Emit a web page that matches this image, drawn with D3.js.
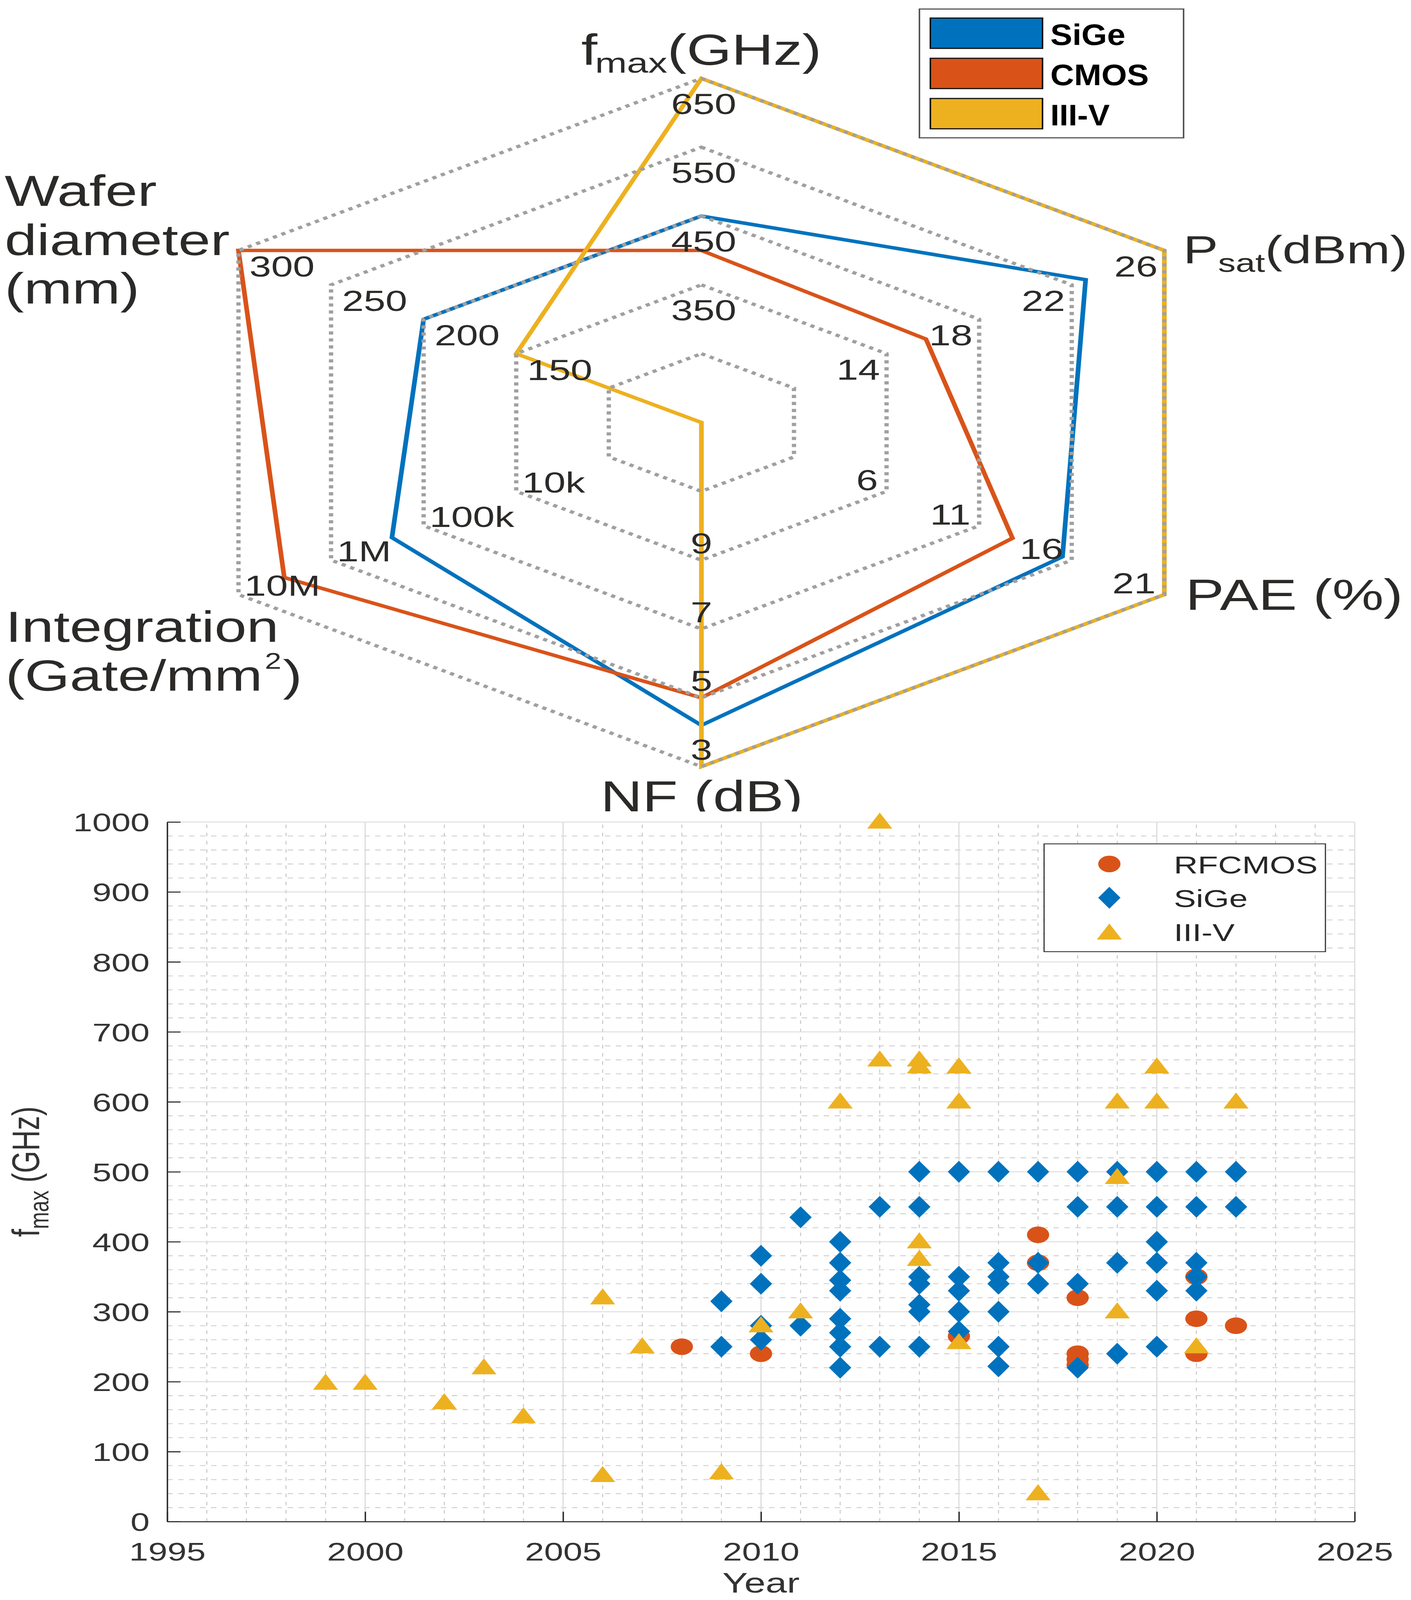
<!DOCTYPE html>
<html><head><meta charset="utf-8">
<script src="https://cdn.jsdelivr.net/npm/d3@7/dist/d3.min.js"></script>
<style>html,body{margin:0;padding:0;background:#fff;overflow:hidden;} svg{display:block;width:100vw;height:100vh;}</style>
</head><body>
<svg id="chart" viewBox="0 0 3611 5491" preserveAspectRatio="none" xmlns="http://www.w3.org/2000/svg"></svg>
<script>
// ---------------- DATA ----------------
const radarAxisKeys = ["fmax", "Psat", "PAE", "NF", "Integration", "Wafer"];
const radarSeriesNames = ["SiGe", "CMOS", "III-V"];
const sigeRadar = [450, 22.6, 15.5, 4.2, 2.2e5, 200];
const cmosRadar = [400, 15.7, 12.8, 5, 3.2e6, 300];
const iiivRadar = [650, 26, 21, 3, 1e2, 150];
const fmaxRange = [150, 650];
const psatRange = [6, 26];
const paeRange = [-4, 21];
const nfRange = [13, 3];
const integRange = [1e2, 1e7];
const waferRange = [50, 300];
const fmaxTicks = [350, 450, 550, 650];
const psatTicks = [14, 18, 22, 26];
const paeTicks = [6, 11, 16, 21];
const nfTicks = [9, 7, 5, 3];
const integTicks = [1e4, 1e5, 1e6, 1e7];
const integTickLabels = ["10k", "100k", "1M", "10M"];
const waferTicks = [150, 200, 250, 300];
const fmaxRings = [250, 350, 450, 550, 650];

const rfcmosYear = [2008, 2010, 2015, 2017, 2017, 2018, 2018, 2018, 2018, 2021, 2021, 2021, 2022];
const rfcmosFmax = [250, 240, 265, 410, 370, 320, 240, 232, 224, 350, 290, 240, 280];
const sigeYear = [2009, 2009,
  2010, 2010, 2010, 2010,
  2011, 2011,
  2012, 2012, 2012, 2012, 2012, 2012, 2012, 2012,
  2013, 2013,
  2014, 2014, 2014, 2014, 2014, 2014, 2014,
  2015, 2015, 2015, 2015, 2015,
  2016, 2016, 2016, 2016, 2016, 2016, 2016,
  2017, 2017, 2017,
  2018, 2018, 2018, 2018,
  2019, 2019, 2019, 2019,
  2020, 2020, 2020, 2020, 2020, 2020,
  2021, 2021, 2021, 2021, 2021,
  2022, 2022];
const sigeFmax = [315, 250,
  380, 340, 280, 260,
  435, 280,
  400, 370, 345, 330, 290, 270, 250, 220,
  450, 250,
  500, 450, 350, 340, 310, 300, 250,
  500, 350, 330, 300, 272,
  500, 370, 350, 340, 300, 250, 222,
  500, 370, 340,
  500, 450, 340, 220,
  500, 450, 370, 240,
  500, 450, 400, 370, 330, 250,
  500, 450, 370, 350, 330,
  500, 450];
const iiivYear = [1999, 2000, 2002, 2003, 2004, 2006, 2006, 2007, 2009, 2010, 2011, 2012,
  2013, 2013, 2014, 2014, 2014, 2014, 2015, 2015, 2015, 2017, 2019, 2019, 2019, 2020, 2020, 2021, 2022];
const iiivFmax = [200, 200, 172, 222, 152, 322, 68, 252, 72, 282, 302, 602,
  1002, 662, 662, 652, 402, 377, 652, 602, 258, 42, 602, 494, 302, 652, 602, 252, 602];
const scatterNames = ["RFCMOS", "SiGe", "III-V"];
const xTickValues = [1995, 2000, 2005, 2010, 2015, 2020, 2025];
const yTickValues = [0, 100, 200, 300, 400, 500, 600, 700, 800, 900, 1000];

// ---------------- STYLE ----------------
const C_SIGE = "#0072BD", C_CMOS = "#D95319", C_IIIV = "#EDB120";
const TXT = "#2b2a28";
const FONT = "'Liberation Sans', Arial, Helvetica, sans-serif";

const svg = d3.select("#chart");
svg.append("rect").attr("width", 3611).attr("height", 5491).attr("fill", "#fff");

// ---------------- RADAR ----------------
const cx = 1795, cy = 1450, Rx = 1368, Ry = 1181;
const angles = [90, 30, -30, -90, -150, 150].map(d => d * Math.PI / 180);
const radarScales = [
  d3.scaleLinear().domain(fmaxRange).range([0, 1]),
  d3.scaleLinear().domain(psatRange).range([0, 1]),
  d3.scaleLinear().domain(paeRange).range([0, 1]),
  d3.scaleLinear().domain(nfRange).range([0, 1]),
  d3.scaleLog().domain(integRange).range([0, 1]),
  d3.scaleLinear().domain(waferRange).range([0, 1])
];
const rxS = d3.scaleLinear().domain([0, 1]).range([0, Rx]);
const ryS = d3.scaleLinear().domain([0, 1]).range([0, Ry]);
function pt(i, f) {
  return [cx + rxS(f) * Math.cos(angles[i]), cy - ryS(f) * Math.sin(angles[i])];
}

svg.append("defs").append("clipPath").attr("id", "radarClip")
  .append("rect").attr("x", 0).attr("y", 0).attr("width", 3611).attr("height", 2785);
const radar = svg.append("g").attr("clip-path", "url(#radarClip)");
const closedLine = d3.line().curve(d3.curveLinearClosed);

const radarSeries = [
  {name: radarSeriesNames[0], vals: sigeRadar, color: C_SIGE},
  {name: radarSeriesNames[1], vals: cmosRadar, color: C_CMOS},
  {name: radarSeriesNames[2], vals: iiivRadar, color: C_IIIV}
];
radar.selectAll("path.series").data(radarSeries).enter().append("path")
  .attr("class", "series")
  .attr("d", s => closedLine(s.vals.map((v, i) => pt(i, radarScales[i](v)))))
  .attr("fill", "none").attr("stroke", s => s.color).attr("stroke-width", 12)
  .attr("stroke-linejoin", "miter").attr("stroke-miterlimit", 10);

const ringFracs = fmaxRings.map(v => radarScales[0](v));
radar.selectAll("path.ring").data(ringFracs).enter().append("path")
  .attr("class", "ring")
  .attr("d", f => closedLine(d3.range(6).map(i => pt(i, f))))
  .attr("fill", "none").attr("stroke", "#a0a0a0").attr("stroke-width", 11)
  .attr("stroke-dasharray", "11 13");

const tickSets = [
  {vals: fmaxTicks, labels: fmaxTicks.map(String), anchor: "middle", dx: 6, dy: 122},
  {vals: psatTicks, labels: psatTicks.map(String), anchor: "end", dx: -17, dy: 89},
  {vals: paeTicks, labels: paeTicks.map(String), anchor: "end", dx: -22, dy: -4},
  {vals: nfTicks, labels: nfTicks.map(String), anchor: "middle", dx: 0, dy: -23},
  {vals: integTicks, labels: integTickLabels, anchor: "start", dx: 15, dy: 4},
  {vals: waferTicks, labels: waferTicks.map(String), anchor: "start", dx: 28, dy: 90}
];
tickSets.forEach((ts, i) => {
  radar.selectAll("text.tick" + i).data(ts.vals).enter().append("text")
    .attr("class", "tick" + i)
    .attr("x", v => pt(i, radarScales[i](v))[0] + ts.dx)
    .attr("y", v => pt(i, radarScales[i](v))[1] + ts.dy)
    .attr("text-anchor", ts.anchor)
    .attr("font-family", FONT).attr("font-size", 100).attr("fill", TXT)
    .text((v, j) => ts.labels[j]);
});

function title(x, y, anchor, size) {
  return radar.append("text").attr("x", x).attr("y", y).attr("text-anchor", anchor)
    .attr("font-family", FONT).attr("font-size", size || 148).attr("fill", TXT);
}
let t = title(1795, 223, "middle");
t.append("tspan").text("f");
t.append("tspan").attr("font-size", 98).attr("dy", 26).attr("dx", -6).text("max");
t.append("tspan").attr("dy", -26).text("(GHz)");

t = title(3028, 903, "start", 134);
t.append("tspan").text("P");
t.append("tspan").attr("font-size", 90).attr("dy", 30).text("sat");
t.append("tspan").attr("dy", -30).text("(dBm)");

title(3034, 2092, "start").text("PAE (%)");
title(1796, 2785, "middle").text("NF (dB)");

t = title(12, 706, "start");
t.append("tspan").attr("x", 12).attr("y", 706).text("Wafer");
t.append("tspan").attr("x", 12).attr("y", 875).text("diameter");
t.append("tspan").attr("x", 12).attr("y", 1041).text("(mm)");

t = title(14, 2203, "start");
t.append("tspan").attr("x", 14).attr("y", 2203).text("Integration");
t.append("tspan").attr("x", 14).attr("y", 2370).text("(Gate/mm");
t.append("tspan").attr("font-size", 76).attr("dy", -75).attr("dx", 6).text("2");
t.append("tspan").attr("dy", 75).attr("dx", 4).text(")");

const lg = svg.append("g");
lg.append("rect").attr("x", 2353).attr("y", 31).attr("width", 676).attr("height", 442)
  .attr("fill", "#fff").attr("stroke", "#555").attr("stroke-width", 4);
const lgWidths = [192, 252, 152];
radarSeries.forEach((s, k) => {
  const y0 = 62 + k * 138;
  lg.append("rect").attr("x", 2381).attr("y", y0).attr("width", 287).attr("height", 104)
    .attr("fill", s.color).attr("stroke", "#111").attr("stroke-width", 4);
  lg.append("text").attr("x", 2688).attr("y", y0 + 92)
    .attr("font-family", "'Liberation Sans Narrow', 'Arial Narrow', 'Liberation Sans', Arial, sans-serif")
    .attr("font-weight", "bold").attr("font-size", 103).attr("fill", "#000")
    .attr("textLength", lgWidths[k]).attr("lengthAdjust", "spacingAndGlyphs")
    .text(s.name);
});

// ---------------- SCATTER ----------------
const xS = d3.scaleLinear().domain([1995, 2025]).range([428, 3467]);
const yS = d3.scaleLinear().domain([0, 1000]).range([5222, 2821]);
const sc = svg.append("g");

const minorYears = d3.range(1996, 2025).filter(y => y % 5 !== 0);
const minorVals = d3.range(20, 1000, 20).filter(v => v % 100 !== 0);
sc.selectAll("line.mgx").data(minorYears).enter().append("line")
  .attr("x1", d => xS(d)).attr("x2", d => xS(d)).attr("y1", yS(0)).attr("y2", yS(1000))
  .attr("stroke", "#c6c6c6").attr("stroke-width", 2.5).attr("stroke-dasharray", "12 16");
sc.selectAll("line.mgy").data(minorVals).enter().append("line")
  .attr("y1", d => yS(d)).attr("y2", d => yS(d)).attr("x1", xS(1995)).attr("x2", xS(2025))
  .attr("stroke", "#c6c6c6").attr("stroke-width", 2.5).attr("stroke-dasharray", "14 14");
sc.selectAll("line.gx").data(xTickValues).enter().append("line")
  .attr("x1", d => xS(d)).attr("x2", d => xS(d)).attr("y1", yS(0)).attr("y2", yS(1000))
  .attr("stroke", "#dcdcdc").attr("stroke-width", 3);
sc.selectAll("line.gy").data(yTickValues).enter().append("line")
  .attr("y1", d => yS(d)).attr("y2", d => yS(d)).attr("x1", xS(1995)).attr("x2", xS(2025))
  .attr("stroke", "#dcdcdc").attr("stroke-width", 3);

const AX = "#262626";
const xAxis = d3.axisBottom(xS).tickValues(xTickValues).tickFormat(d3.format("d"))
  .tickSizeInner(-34).tickSizeOuter(0).tickPadding(70);
const yAxis = d3.axisLeft(yS).tickValues(yTickValues).tickFormat(d3.format("d"))
  .tickSizeInner(-34).tickSizeOuter(0).tickPadding(45);
const gx = sc.append("g").attr("transform", `translate(0,${yS(0)})`).call(xAxis);
const gy = sc.append("g").attr("transform", `translate(${xS(1995)},0)`).call(yAxis);
[gx, gy].forEach(g => {
  g.select(".domain").attr("stroke", AX).attr("stroke-width", 3.5);
  g.selectAll(".tick line").attr("stroke", AX).attr("stroke-width", 3.5);
  g.selectAll(".tick text").attr("font-family", FONT).attr("font-size", 88).attr("fill", "#333");
});
gy.selectAll(".tick text").attr("dy", "0.36em");
gx.selectAll(".tick text").attr("dy", "0.72em");

const yl = sc.append("text").attr("transform", "translate(100,4021) rotate(-90)")
  .attr("text-anchor", "middle").attr("font-family", FONT).attr("font-size", 98).attr("fill", "#333");
yl.append("tspan").text("f");
yl.append("tspan").attr("font-size", 70).attr("dy", 24).text("max");
yl.append("tspan").attr("dy", -24).text(" (GHz)");
sc.append("text").attr("x", (xS(1995) + xS(2025)) / 2).attr("y", 5466).attr("text-anchor", "middle")
  .attr("font-family", FONT).attr("font-size", 98).attr("fill", "#333").text("Year");

const circlePath = "M28.5,0A28.5,28.5 0 1,1 -28.5,0A28.5,28.5 0 1,1 28.5,0Z";
const diamondPath = "M0,-37.5L28.5,0L0,37.5L-28.5,0Z";
const trianglePath = "M0,-27.5L32,27.5L-32,27.5Z";

const scatterSeries = [
  {name: scatterNames[0], years: rfcmosYear, vals: rfcmosFmax, color: C_CMOS, path: circlePath},
  {name: scatterNames[1], years: sigeYear, vals: sigeFmax, color: C_SIGE, path: diamondPath},
  {name: scatterNames[2], years: iiivYear, vals: iiivFmax, color: C_IIIV, path: trianglePath}
];
scatterSeries.forEach(s => {
  sc.append("g").selectAll("path").data(s.years.map((y, i) => [y, s.vals[i]])).enter().append("path")
    .attr("d", s.path).attr("fill", s.color)
    .attr("transform", d => `translate(${xS(d[0])},${yS(d[1])})`);
});

const sl = sc.append("g");
sl.append("rect").attr("x", 2672).attr("y", 2896).attr("width", 720).attr("height", 370)
  .attr("fill", "#fff").attr("stroke", "#333").attr("stroke-width", 3);
scatterSeries.forEach((s, k) => {
  const ry = 2965 + k * 116;
  sl.append("path").attr("d", s.path).attr("fill", s.color).attr("transform", `translate(2839,${ry})`);
  sl.append("text").attr("x", 3004).attr("y", ry + 32).attr("font-family", FONT)
    .attr("font-size", 85).attr("fill", "#262626").text(s.name);
});
</script>
</body></html>
